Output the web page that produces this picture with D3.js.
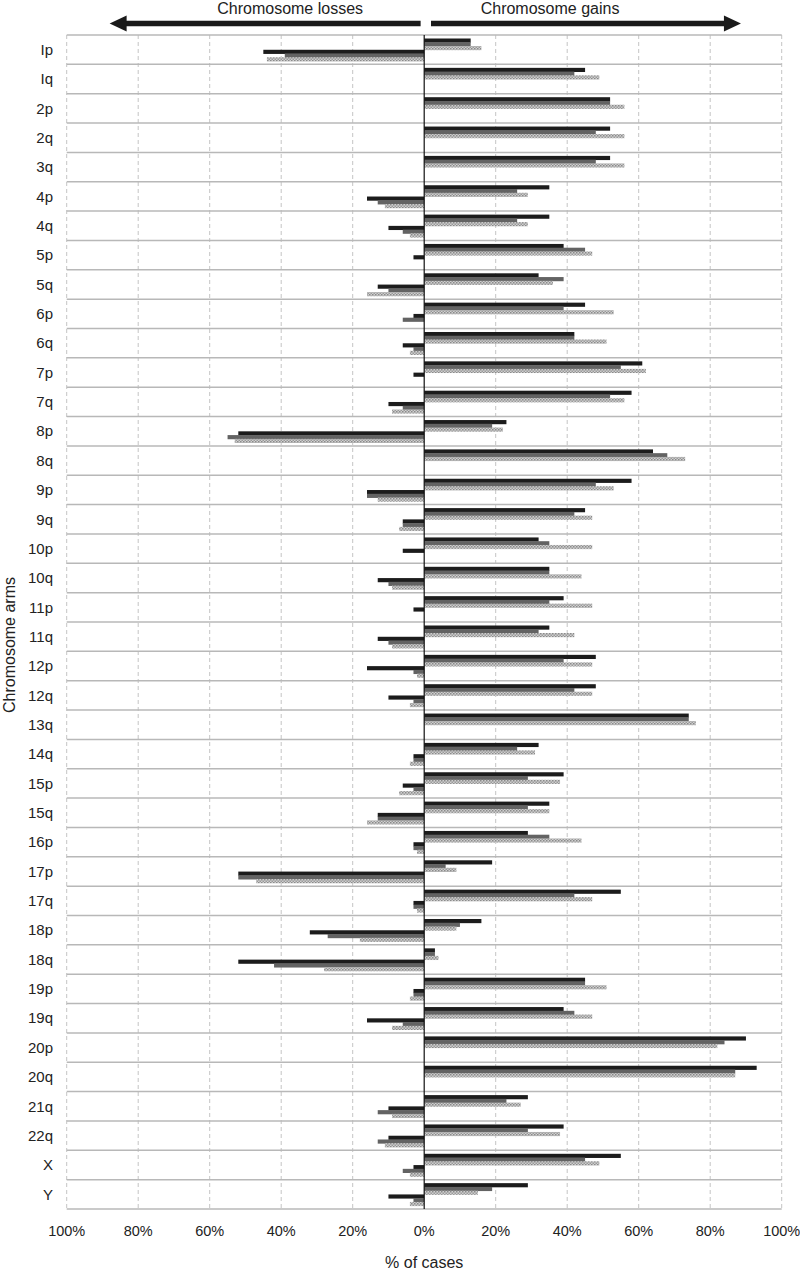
<!DOCTYPE html>
<html>
  <head>
    <title>Chromosome arm gains and losses</title>
    <style>
      body { margin: 0; background: #fff; }
      text { font-family: "Liberation Sans", Arial, sans-serif; fill: #222; }
      .grid line { stroke: #c4c4c4; stroke-dasharray: 4,3; }
      .row line { stroke: #b8b8b8; stroke-width: 1.5px; }
    </style>
    <script src="https://d3js.org/d3.v7.min.js"></script>
  </head>
  <body>
    <div id="chart"></div>
    <script type="text/javascript">
      var arms = ["Ip","Iq","2p","2q","3q","4p","4q","5p","5q","6p","6q","7p","7q","8p","8q",
                  "9p","9q","10p","10q","11p","11q","12p","12q","13q","14q","15p","15q","16p",
                  "17p","17q","18p","18q","19p","19q","20p","20q","21q","22q","X","Y"];

      // % of cases with gain, three series per arm
      var gainA = [13,45,52,52,52,35,35,39,32,45,42,61,58,23,64,58,45,32,35,39,35,48,48,74,32,39,35,29,19,55,16,3,45,39,90,93,29,39,55,29];
      var gainB = [13,42,52,48,48,26,26,45,39,39,42,55,52,19,68,48,42,35,35,35,32,39,42,74,26,29,29,35,6,42,10,3,45,42,84,87,23,29,45,19];
      var gainC = [16,49,56,56,56,29,29,47,36,53,51,62,56,22,73,53,47,47,44,47,42,47,47,76,31,38,35,44,9,47,9,4,51,47,82,87,27,38,49,15];

      // % of cases with loss
      var lossA = [45,0,0,0,0,16,10,3,13,3,6,3,10,52,0,16,6,6,13,3,13,16,10,0,3,6,13,3,52,3,32,52,3,16,0,0,10,10,3,10];
      var lossB = [39,0,0,0,0,13,6,0,10,6,3,0,6,55,0,16,6,0,10,0,10,3,3,0,3,3,13,3,52,3,27,42,3,6,0,0,13,13,6,3];
      var lossC = [44,0,0,0,0,11,4,0,16,0,4,0,9,53,0,13,7,0,9,0,9,2,4,0,4,7,16,2,47,2,18,28,4,9,0,0,9,11,4,4];

      var xTicks = [-100,-80,-60,-40,-20,0,20,40,60,80,100];

      var width = 800, height = 1272;
      var margin = {top: 35, right: 18.3, bottom: 63, left: 66.7};

      var series = [
        {key: "gA", vals: gainA, sign: 1, fill: "#1c1c1c"},
        {key: "gB", vals: gainB, sign: 1, fill: "#636363"},
        {key: "gC", vals: gainC, sign: 1, fill: "url(#dots)"},
        {key: "lA", vals: lossA, sign: -1, fill: "#1c1c1c"},
        {key: "lB", vals: lossB, sign: -1, fill: "#636363"},
        {key: "lC", vals: lossC, sign: -1, fill: "url(#dots)"}
      ];

      var svg = d3.select("#chart").append("svg")
          .attr("width", width)
          .attr("height", height);

      var pat = svg.append("defs").append("pattern")
          .attr("id", "dots")
          .attr("patternUnits", "userSpaceOnUse")
          .attr("width", 3).attr("height", 3);
      pat.append("rect").attr("width", 3).attr("height", 3).attr("fill", "#cfcfcf");
      pat.append("rect").attr("width", 1.5).attr("height", 1.5).attr("fill", "#8a8a8a");
      pat.append("rect").attr("x", 1.5).attr("y", 1.5).attr("width", 1.5).attr("height", 1.5).attr("fill", "#9a9a9a");

      var x = d3.scaleLinear()
          .domain([-100, 100])
          .range([margin.left, width - margin.right]);

      var y = d3.scaleBand()
          .domain(arms)
          .range([margin.top, height - margin.bottom]);

      var inner = d3.scaleBand()
          .domain(series.map(function(s){ return s.key; }))
          .range([3.5, y.bandwidth() - 3.3]);

      var plotTop = margin.top, plotBottom = height - margin.bottom;

      // vertical dashed gridlines
      svg.append("g").attr("class", "grid")
        .selectAll("line")
        .data(xTicks.filter(function(t){ return t !== 0; }))
        .enter().append("line")
          .attr("x1", function(d){ return x(d); })
          .attr("x2", function(d){ return x(d); })
          .attr("y1", plotTop).attr("y2", plotBottom);

      // row separators
      svg.append("g").attr("class", "row")
        .selectAll("line")
        .data(arms.concat(["end"]))
        .enter().append("line")
          .attr("x1", x(-100)).attr("x2", x(100))
          .attr("y1", function(d, i){ return i < arms.length ? y(d) : plotBottom; })
          .attr("y2", function(d, i){ return i < arms.length ? y(d) : plotBottom; });

      // bars
      series.forEach(function(s) {
        svg.append("g").selectAll("rect")
          .data(arms.map(function(a, i){ return {arm: a, v: s.vals[i]}; }))
          .enter().append("rect")
            .attr("x", function(d){ return s.sign > 0 ? x(0) : x(-d.v); })
            .attr("y", function(d){ return y(d.arm) + inner(s.key); })
            .attr("width", function(d){ return Math.abs(x(s.sign * d.v) - x(0)); })
            .attr("height", inner.bandwidth() + 0.4)
            .attr("fill", s.fill);
      });

      // zero axis
      svg.append("line")
          .attr("x1", x(0)).attr("x2", x(0))
          .attr("y1", plotTop).attr("y2", plotBottom)
          .attr("stroke", "#111").attr("stroke-width", 1.2);

      // category labels
      svg.append("g").selectAll("text")
        .data(arms)
        .enter().append("text")
          .attr("x", 53)
          .attr("y", function(d){ return y(d) + y.bandwidth() / 2; })
          .attr("dy", "0.35em")
          .attr("text-anchor", "end")
          .style("font-size", "15px")
          .text(function(d){ return d; });

      // x tick labels
      svg.append("g").selectAll("text")
        .data(xTicks)
        .enter().append("text")
          .attr("x", function(d){ return x(d); })
          .attr("y", plotBottom + 27)
          .attr("text-anchor", "middle")
          .style("font-size", "14.5px")
          .text(function(d){ return Math.abs(d) + "%"; });

      svg.append("text")
          .attr("x", x(0))
          .attr("y", 1268)
          .attr("text-anchor", "middle")
          .style("font-size", "16px")
          .text("% of cases");

      svg.append("text")
          .attr("transform", "translate(15,645) rotate(-90)")
          .attr("text-anchor", "middle")
          .style("font-size", "16px")
          .text("Chromosome arms");

      // header arrows
      function arrow(from, to) {
        var x0 = x(from), x1 = x(to), dir = to > from ? 1 : -1, yc = 23.5;
        var g = svg.append("g");
        g.append("line")
          .attr("x1", x0).attr("x2", x1 - dir * 14)
          .attr("y1", yc).attr("y2", yc)
          .attr("stroke", "#1a1a1a").attr("stroke-width", 5.5);
        g.append("path")
          .attr("d", "M" + x1 + "," + yc + "L" + (x1 - dir * 17) + "," + (yc - 8) +
                     "L" + (x1 - dir * 17) + "," + (yc + 8) + "Z")
          .attr("fill", "#1a1a1a");
      }
      arrow(-1, -88);
      arrow(1.9, 88.6);

      svg.append("text")
          .attr("x", x(-37.5)).attr("y", 14)
          .attr("text-anchor", "middle")
          .style("font-size", "16px")
          .text("Chromosome losses");

      svg.append("text")
          .attr("x", x(35.2)).attr("y", 14)
          .attr("text-anchor", "middle")
          .style("font-size", "16px")
          .text("Chromosome gains");
    </script>
  </body>
</html>
